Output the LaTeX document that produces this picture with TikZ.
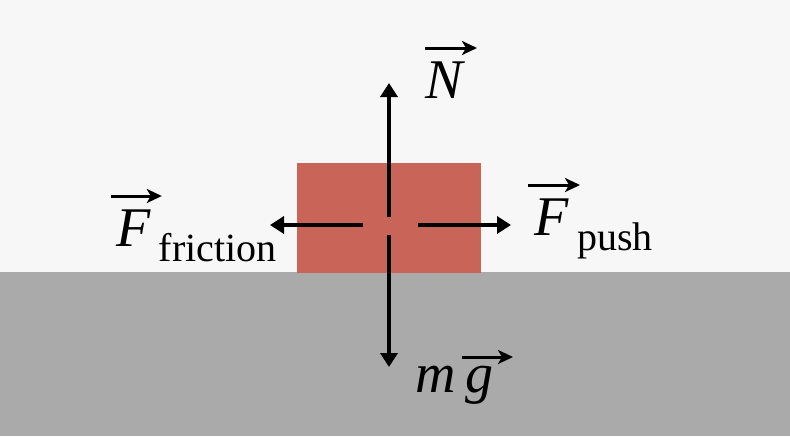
\documentclass[tikz,border=0pt]{standalone}
\usepackage{fontspec}
\setmainfont{Liberation Serif}
\usetikzlibrary{arrows.meta,calc}
\definecolor{skygrey}{HTML}{F7F7F7}
\definecolor{groundgrey}{HTML}{AAAAAA}
\definecolor{blockred}{RGB}{201,101,88}
\newcommand{\sublbl}[1]{\raisebox{-7.5pt}{\fontsize{20}{24}\selectfont #1}}

\begin{document}
\begin{tikzpicture}[x=0.5pt,y=-0.5pt,
    force/.style={line width=2pt,-{Triangle[length=7pt,width=8.5pt]}},
    vecarr/.style={line width=1.5pt,-{Stealth[length=7.5pt,width=7pt,inset=2pt]}},
    lbl/.style={inner sep=0pt,font=\fontsize{28}{32}\selectfont}]
			%%%%% START %%%%%
			
			\fill[skygrey] (0,0) rectangle (790,272);
			\fill[groundgrey] (0,272) rectangle (790,436);
			\useasboundingbox (0,0) rectangle (790,436);
			
			\node[fill=blockred, minimum width=92pt, minimum height=55pt, inner sep=0pt] (block) at (389,218) {};
			
			\coordinate (c) at (389,225);
			\coordinate (Ustart) at (389,217);
			\coordinate (Utip) at (389,83);
			\coordinate (Dstart) at (389,235);
			\coordinate (Dtip) at (389,367);
			\coordinate (Lstart) at (363,225);
			\coordinate (Ltip) at (270,225);
			\coordinate (Rstart) at (418,225);
			\coordinate (Rtip) at (511,225);
			
			\draw[force] (Ustart) -- (Utip);
			\draw[force] (Dstart) -- (Dtip);
			\draw[force] (Lstart) -- (Ltip);
			\draw[force] (Rstart) -- (Rtip);
			
			\node[lbl, anchor=base west, xshift=18pt, yshift=-7.5pt] (Nlbl) at (Utip) {\textit{N}};
			\node[lbl, anchor=base west, xshift=13pt, yshift=-12.5pt] (mglbl) at (Dtip) {\textit{m}\,\textit{g}};
			\node[lbl, anchor=base east, xshift=3.5pt, yshift=-10.5pt] (Ffric) at (Ltip) {\textit{F}\hspace{4pt}\sublbl{friction}};
			\node[lbl, anchor=base west, xshift=11.5pt, yshift=-5pt] (Fpush) at (Rtip) {\textit{F}\hspace{4pt}\sublbl{push}};
			
			% vector arrows over the symbols
			\draw[vecarr] ($(Nlbl.base west)+(0,-50)$) -- ++(52,0);
			\draw[vecarr] ($(mglbl.base west)+(47,-35)$) -- ++(51,0);
			\draw[vecarr] ($(Ffric.base west)+(-5,-50)$) -- ++(51,0);
			\draw[vecarr] ($(Fpush.base west)+(-6,-50)$) -- ++(52,0);
			
			%%%%% END %%%%%
		\end{tikzpicture}
\end{document}
